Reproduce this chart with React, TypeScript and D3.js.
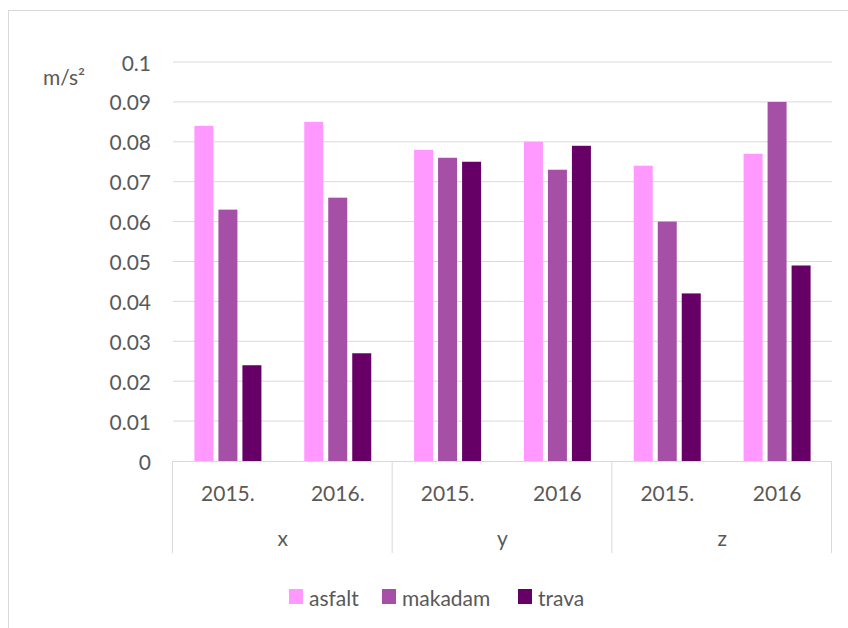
import * as d3 from "d3";

const groups = ["x", "y", "z"];
const years = [
  ["2015.", "2016."],
  ["2015.", "2016"],
  ["2015.", "2016"],
];
const seriesNames = ["asfalt", "makadam", "trava"];
const seriesColors = ["#FF99FF", "#A64FA6", "#660066"];
const asfalt = [0.084, 0.085, 0.078, 0.08, 0.074, 0.077];
const makadam = [0.063, 0.066, 0.076, 0.073, 0.06, 0.09];
const trava = [0.024, 0.027, 0.075, 0.079, 0.042, 0.049];
const yTicks = [0, 0.01, 0.02, 0.03, 0.04, 0.05, 0.06, 0.07, 0.08, 0.09, 0.1];

const W = 848;
const H = 628;
const LEFT = 173;
const RIGHT = 832;
const TOP = 62;
const BOTTOM = 461;
const FONT = "Lato, 'Open Sans', sans-serif";
const FS = 21;
const TEXT = "#595959";

export default function App() {
  const series = [asfalt, makadam, trava];
  const slots = years.flatMap((ys, gi) => ys.map((y, j) => `${gi}-${j}`));
  const x = d3.scaleBand().domain(slots).range([LEFT, RIGHT]);
  const y = d3.scaleLinear().domain([0, 0.1]).range([BOTTOM, TOP]);
  const barW = 19;
  const gap = 5;
  const clusterW = barW * 3 + gap * 2;
  const groupW = (RIGHT - LEFT) / groups.length;

  return (
    <div style={{ position: "absolute", left: 0, top: 0 }}>
      <svg width={W} height={H} style={{ display: "block" }}>
        <rect x={8.5} y={10.5} width={W + 20} height={H + 20} fill="#fff" stroke="#D9D9D9" />
        {yTicks.map((t) => (
          <g key={t}>
            {t > 0 && (
              <line x1={LEFT} x2={RIGHT} y1={y(t)} y2={y(t)} stroke="#D9D9D9" strokeWidth={1} />
            )}
            <text
              x={151}
              y={y(t)}
              textAnchor="end"
              dominantBaseline="central"
              fontFamily={FONT}
              fontSize={FS}
              fill={TEXT}
            >
              {d3.format("")(+t.toFixed(2))}
            </text>
          </g>
        ))}
        <text x={43} y={76} fontFamily={FONT} fontSize={FS} fill={TEXT} dominantBaseline="central">
          m/s²
        </text>
        {slots.map((s, i) => {
          const x0 = (x(s) as number) + (x.bandwidth() - clusterW) / 2;
          return (
            <g key={s}>
              {series.map((vals, k) => (
                <rect
                  key={k}
                  x={x0 + k * (barW + gap)}
                  y={y(vals[i])}
                  width={barW}
                  height={BOTTOM - y(vals[i])}
                  fill={seriesColors[k]}
                />
              ))}
            </g>
          );
        })}
        <line x1={LEFT} x2={RIGHT} y1={BOTTOM + 0.5} y2={BOTTOM + 0.5} stroke="#D9D9D9" />
        {d3.range(groups.length + 1).map((i) => (
          <line
            key={i}
            x1={LEFT + i * groupW - 0.5}
            x2={LEFT + i * groupW - 0.5}
            y1={BOTTOM}
            y2={553}
            stroke="#D9D9D9"
          />
        ))}
        {slots.map((s, i) => {
          const gi = Math.floor(i / 2);
          return (
            <text
              key={s}
              x={(x(s) as number) + x.bandwidth() / 2}
              y={492}
              textAnchor="middle"
              dominantBaseline="central"
              fontFamily={FONT}
              fontSize={FS}
              fill={TEXT}
            >
              {years[gi][i % 2]}
            </text>
          );
        })}
        {groups.map((g, gi) => (
          <text
            key={g}
            x={LEFT + gi * groupW + groupW / 2}
            y={537}
            textAnchor="middle"
            dominantBaseline="central"
            fontFamily={FONT}
            fontSize={FS}
            fill={TEXT}
          >
            {g}
          </text>
        ))}
        {seriesNames.map((n, k) => {
          const lx = [289, 382, 518][k];
          return (
            <g key={n}>
              <rect x={lx} y={589} width={14} height={15} fill={seriesColors[k]} />
              <text
                x={lx + 20}
                y={597}
                dominantBaseline="central"
                fontFamily={FONT}
                fontSize={FS}
                fill={TEXT}
              >
                {n}
              </text>
            </g>
          );
        })}
      </svg>
    </div>
  );
}
